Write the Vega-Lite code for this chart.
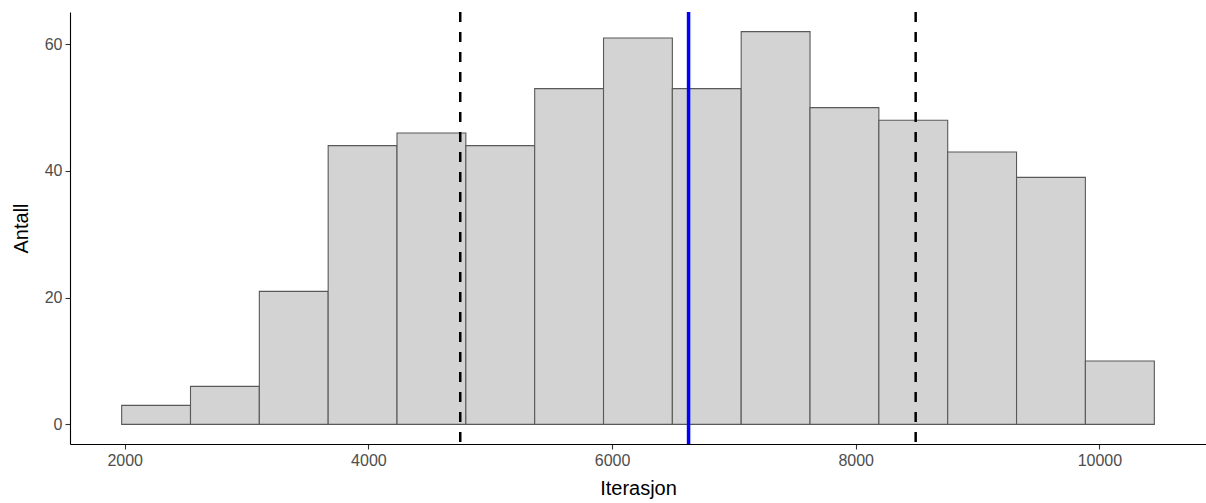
{
  "$schema": "https://vega.github.io/schema/vega-lite/v6.json",
  "width": 1136,
  "height": 432,
  "autosize": {"type": "none"},
  "padding": {"left": 70, "top": 12, "right": 0, "bottom": 59},
  "background": "white",
  "config": {
    "view": {"stroke": null},
    "axis": {
      "grid": false,
      "domainColor": "#000000",
      "domainWidth": 1.1,
      "tickColor": "#333333",
      "tickWidth": 1.1,
      "tickSize": 5,
      "labelColor": "#4D4D4D",
      "labelFont": "Liberation Sans",
      "labelFontSize": 16,
      "labelPadding": 3,
      "titleFont": "Liberation Sans",
      "titleFontSize": 20,
      "titleFontWeight": "normal",
      "titleColor": "#000000"
    }
  },
  "datasets": {
    "bins": [
      {"lo": 1975, "hi": 2540, "count": 3},
      {"lo": 2540, "hi": 3105, "count": 6},
      {"lo": 3105, "hi": 3670, "count": 21},
      {"lo": 3670, "hi": 4235, "count": 44},
      {"lo": 4235, "hi": 4800, "count": 46},
      {"lo": 4800, "hi": 5365, "count": 44},
      {"lo": 5365, "hi": 5930, "count": 53},
      {"lo": 5930, "hi": 6495, "count": 61},
      {"lo": 6495, "hi": 7060, "count": 53},
      {"lo": 7060, "hi": 7625, "count": 62},
      {"lo": 7625, "hi": 8190, "count": 50},
      {"lo": 8190, "hi": 8755, "count": 48},
      {"lo": 8755, "hi": 9320, "count": 43},
      {"lo": 9320, "hi": 9885, "count": 39},
      {"lo": 9885, "hi": 10451, "count": 10}
    ],
    "dashed": [{"v": 4754}, {"v": 8492}],
    "mean": [{"v": 6628}]
  },
  "layer": [
    {
      "data": {"name": "bins"},
      "mark": {"type": "rect", "fill": "#D3D3D3", "stroke": "#595959", "strokeWidth": 1.1},
      "encoding": {
        "x": {
          "field": "lo", "type": "quantitative",
          "scale": {"domain": [1551, 10875], "nice": false, "zero": false},
          "axis": {"values": [2000, 4000, 6000, 8000, 10000], "format": "d", "title": "Iterasjon", "titlePadding": 10}
        },
        "x2": {"field": "hi"},
        "y": {
          "field": "count", "type": "quantitative",
          "scale": {"domain": [-3.1, 65.1], "nice": false, "zero": false},
          "axis": {"values": [0, 20, 40, 60], "title": "Antall", "titlePadding": 13}
        },
        "y2": {"datum": 0}
      }
    },
    {
      "data": {"name": "dashed"},
      "mark": {"type": "rule", "color": "#000000", "strokeWidth": 2.5, "strokeDash": [10, 10]},
      "encoding": {"x": {"field": "v", "type": "quantitative"}}
    },
    {
      "data": {"name": "mean"},
      "mark": {"type": "rule", "color": "#0000FF", "strokeWidth": 3.5},
      "encoding": {"x": {"field": "v", "type": "quantitative"}}
    }
  ]
}
